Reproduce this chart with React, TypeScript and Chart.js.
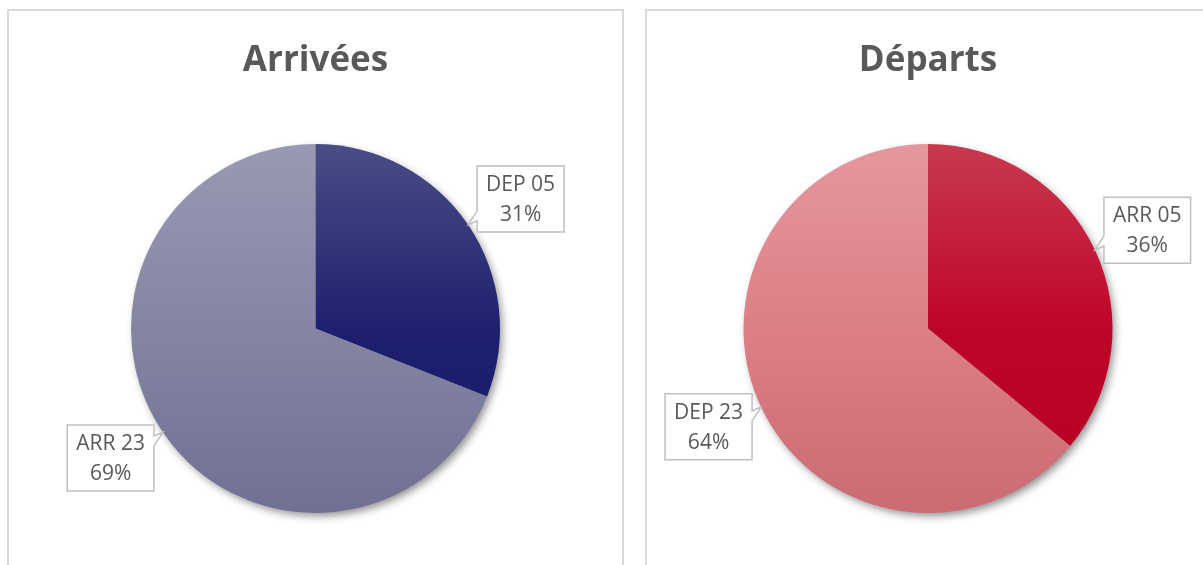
import React, { useEffect, useRef } from "react";
import { Chart, registerables } from "chart.js";

Chart.register(...registerables);

// ---- Data ----
const arrTitle = "Arrivées";
const arrLabels = ["DEP 05", "ARR 23"];
const arrValues = [31, 69];

const depTitle = "Départs";
const depLabels = ["ARR 05", "DEP 23"];
const depValues = [36, 64];

// ---- Colours (top, middle, bottom of vertical gradient) ----
const arrColors = [
  ["#4a4d85", "#1e206f", "#15186a"],
  ["#9a99b4", "#8585a3", "#6f7094"],
];
const depColors = [
  ["#c83a50", "#bf0429", "#b50024"],
  ["#e5979d", "#dc7f86", "#cb6b73"],
];

const FONT = "'Open Sans', 'DejaVu Sans', sans-serif";
const TEXT = "#595959";

const shadowPlugin = {
  id: "pieShadow",
  beforeDatasetsDraw(chart: any) {
    const meta = chart.getDatasetMeta(0);
    const arc = meta.data[0];
    if (!arc) return;
    const { x, y, outerRadius } = arc.getProps(["x", "y", "outerRadius"], true);
    const ctx = chart.ctx;
    ctx.save();
    ctx.shadowColor = "rgba(0,0,0,0.45)";
    ctx.shadowBlur = 9;
    ctx.shadowOffsetX = 3;
    ctx.shadowOffsetY = 4;
    ctx.beginPath();
    ctx.arc(x, y, outerRadius - 1, 0, Math.PI * 2);
    ctx.fillStyle = "#888";
    ctx.fill();
    ctx.restore();
  },
};

const calloutPlugin = {
  id: "callouts",
  afterDatasetsDraw(chart: any) {
    const meta = chart.getDatasetMeta(0);
    const ds = chart.data.datasets[0];
    const total = ds.data.reduce((a: number, b: number) => a + b, 0);
    const ctx = chart.ctx;
    ctx.save();
    ctx.font = `21px ${FONT}`;
    meta.data.forEach((arc: any, i: number) => {
      const { x, y, startAngle, endAngle, outerRadius } = arc.getProps(
        ["x", "y", "startAngle", "endAngle", "outerRadius"],
        true
      );
      const mid = (startAngle + endAngle) / 2;
      const tx = x + Math.cos(mid) * outerRadius;
      const ty = y + Math.sin(mid) * outerRadius;
      const line1 = String(chart.data.labels[i]);
      const line2 = Math.round((ds.data[i] / total) * 100) + "%";
      const w = Math.max(ctx.measureText(line1).width, ctx.measureText(line2).width) + 18;
      const h = 66;
      const right = Math.cos(mid) >= 0;
      const cy = ty + 46 * Math.sin(mid);
      const bx = right ? tx + 9 : tx - 9 - w;
      const by = cy - h / 2;
      const clampY = (v: number) => Math.min(Math.max(v, by + 2), by + h - 2);
      let y1: number, y2: number;
      if (Math.sin(mid) < 0) {
        y1 = clampY(ty - 14);
        y2 = clampY(ty - 4);
      } else {
        y1 = clampY(ty + 4);
        y2 = clampY(ty + 14);
      }
      ctx.beginPath();
      ctx.moveTo(bx, by);
      ctx.lineTo(bx + w, by);
      if (!right) {
        ctx.lineTo(bx + w, y1);
        ctx.lineTo(tx, ty);
        ctx.lineTo(bx + w, y2);
      }
      ctx.lineTo(bx + w, by + h);
      ctx.lineTo(bx, by + h);
      if (right) {
        ctx.lineTo(bx, y2);
        ctx.lineTo(tx, ty);
        ctx.lineTo(bx, y1);
      }
      ctx.closePath();
      ctx.fillStyle = "#ffffff";
      ctx.fill();
      ctx.lineWidth = 1.5;
      ctx.strokeStyle = "#bfbfbf";
      ctx.stroke();
      ctx.fillStyle = TEXT;
      ctx.textAlign = "center";
      ctx.textBaseline = "middle";
      ctx.fillText(line1, bx + w / 2, cy - 14);
      ctx.fillText(line2, bx + w / 2, cy + 16);
    });
    ctx.restore();
  },
};

type PieProps = {
  title: string;
  labels: string[];
  values: number[];
  colors: string[][];
  left: number;
  width: number;
};

function PieChart({ title, labels, values, colors, left, width }: PieProps) {
  const ref = useRef<HTMLCanvasElement | null>(null);
  useEffect(() => {
    if (!ref.current) return;
    const chart = new Chart(ref.current, {
      type: "pie",
      data: {
        labels,
        datasets: [
          {
            data: values,
            borderWidth: 0,
            backgroundColor: (c: any) => {
              const cols = colors[c.dataIndex % colors.length];
              const area = c.chart.chartArea;
              if (!area) return cols[1];
              const g = c.chart.ctx.createLinearGradient(0, area.top, 0, area.bottom);
              g.addColorStop(0, cols[0]);
              g.addColorStop(0.5, cols[1]);
              g.addColorStop(1, cols[2]);
              return g;
            },
          },
        ],
      },
      options: {
        animation: false,
        responsive: true,
        maintainAspectRatio: false,
        layout: { padding: { bottom: 52 } },
        plugins: {
          legend: { display: false },
          tooltip: { enabled: false },
          title: {
            display: true,
            text: title,
            color: TEXT,
            font: { family: FONT, size: 35, weight: "bold" },
            padding: { top: 29, bottom: 62 },
          },
        },
      },
      plugins: [shadowPlugin, calloutPlugin],
    } as any);
    return () => chart.destroy();
  }, []);
  return (
    <div style={{ position: "absolute", left, top: 11, width, height: 554 }}>
      <canvas ref={ref} />
    </div>
  );
}

export default function App() {
  return (
    <div
      style={{
        position: "fixed",
        left: 0,
        top: 0,
        width: 1203,
        height: 565,
        overflow: "hidden",
        background: "#ffffff",
      }}
    >
      <div
        style={{
          position: "absolute",
          left: 7,
          top: 9,
          width: 617,
          height: 600,
          border: "2px solid #d9d9d9",
          boxSizing: "border-box",
        }}
      />
      <div
        style={{
          position: "absolute",
          left: 645,
          top: 9,
          width: 600,
          height: 600,
          border: "2px solid #d9d9d9",
          boxSizing: "border-box",
        }}
      />
      <PieChart title={arrTitle} labels={arrLabels} values={arrValues} colors={arrColors} left={9} width={613} />
      <PieChart title={depTitle} labels={depLabels} values={depValues} colors={depColors} left={647} width={562} />
    </div>
  );
}
